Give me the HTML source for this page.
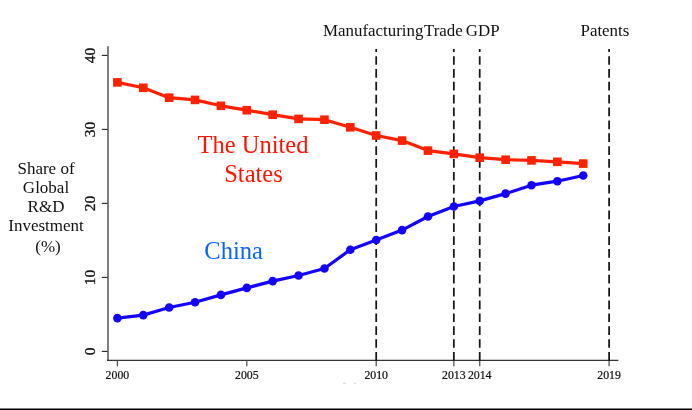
<!DOCTYPE html>
<html><head><meta charset="utf-8"><style>
html,body{margin:0;padding:0;background:#fff;}
body{width:692px;height:410px;overflow:hidden;position:relative;}
svg{position:absolute;left:0;top:0;will-change:transform;}
text{font-family:"Liberation Serif",serif;}
</style></head><body>
<svg width="692" height="410" viewBox="0 0 692 410">
<rect x="0" y="0" width="692" height="410" fill="#fff"/>
<!-- axes -->
<line x1="108" y1="46.2" x2="108" y2="361" stroke="#787878" stroke-width="1.9"/>
<line x1="107" y1="360.4" x2="618.3" y2="360.4" stroke="#333" stroke-width="1.2"/>
<g stroke="#222" stroke-width="1.1"><line x1="101.8" y1="351.40" x2="107.5" y2="351.40"/><line x1="101.8" y1="277.40" x2="107.5" y2="277.40"/><line x1="101.8" y1="203.40" x2="107.5" y2="203.40"/><line x1="101.8" y1="129.40" x2="107.5" y2="129.40"/><line x1="101.8" y1="55.40" x2="107.5" y2="55.40"/></g>
<g stroke="#555" stroke-width="1.3"><line x1="117.40" y1="360.5" x2="117.40" y2="366.3"/><line x1="246.80" y1="360.5" x2="246.80" y2="366.3"/><line x1="376.20" y1="360.5" x2="376.20" y2="366.3"/><line x1="453.84" y1="360.5" x2="453.84" y2="366.3"/><line x1="479.72" y1="360.5" x2="479.72" y2="366.3"/><line x1="609.12" y1="360.5" x2="609.12" y2="366.3"/></g>
<!-- vertical dashed -->
<g stroke="#151515" stroke-width="1.75" stroke-dasharray="8.7 4.164"><line x1="376.20" y1="360.7" x2="376.20" y2="49"/><line x1="453.84" y1="360.7" x2="453.84" y2="49"/><line x1="479.72" y1="360.7" x2="479.72" y2="49"/><line x1="609.12" y1="360.7" x2="609.12" y2="49"/></g>
<!-- series -->
<polyline points="117.40,82.40 143.28,87.80 169.16,97.70 195.04,99.90 220.92,105.80 246.80,110.20 272.68,114.70 298.56,118.90 324.44,119.70 350.32,127.30 376.20,135.50 402.08,140.60 427.96,150.60 453.84,153.90 479.72,157.70 505.60,159.70 531.48,160.40 557.36,161.80 583.24,163.60" fill="none" stroke="#ff2200" stroke-width="3.2" stroke-linejoin="round"/>
<g fill="#ff2200"><rect x="113.10" y="78.10" width="8.6" height="8.6"/><rect x="138.98" y="83.50" width="8.6" height="8.6"/><rect x="164.86" y="93.40" width="8.6" height="8.6"/><rect x="190.74" y="95.60" width="8.6" height="8.6"/><rect x="216.62" y="101.50" width="8.6" height="8.6"/><rect x="242.50" y="105.90" width="8.6" height="8.6"/><rect x="268.38" y="110.40" width="8.6" height="8.6"/><rect x="294.26" y="114.60" width="8.6" height="8.6"/><rect x="320.14" y="115.40" width="8.6" height="8.6"/><rect x="346.02" y="123.00" width="8.6" height="8.6"/><rect x="371.90" y="131.20" width="8.6" height="8.6"/><rect x="397.78" y="136.30" width="8.6" height="8.6"/><rect x="423.66" y="146.30" width="8.6" height="8.6"/><rect x="449.54" y="149.60" width="8.6" height="8.6"/><rect x="475.42" y="153.40" width="8.6" height="8.6"/><rect x="501.30" y="155.40" width="8.6" height="8.6"/><rect x="527.18" y="156.10" width="8.6" height="8.6"/><rect x="553.06" y="157.50" width="8.6" height="8.6"/><rect x="578.94" y="159.30" width="8.6" height="8.6"/></g>
<polyline points="117.40,318.10 143.28,315.10 169.16,307.50 195.04,302.30 220.92,294.90 246.80,287.90 272.68,281.10 298.56,275.50 324.44,268.50 350.32,249.70 376.20,240.00 402.08,230.10 427.96,216.50 453.84,206.50 479.72,200.90 505.60,193.60 531.48,185.20 557.36,181.20 583.24,175.50" fill="none" stroke="#1400ff" stroke-width="3.2" stroke-linejoin="round"/>
<g fill="#1400ff"><circle cx="117.40" cy="318.10" r="4.3"/><circle cx="143.28" cy="315.10" r="4.3"/><circle cx="169.16" cy="307.50" r="4.3"/><circle cx="195.04" cy="302.30" r="4.3"/><circle cx="220.92" cy="294.90" r="4.3"/><circle cx="246.80" cy="287.90" r="4.3"/><circle cx="272.68" cy="281.10" r="4.3"/><circle cx="298.56" cy="275.50" r="4.3"/><circle cx="324.44" cy="268.50" r="4.3"/><circle cx="350.32" cy="249.70" r="4.3"/><circle cx="376.20" cy="240.00" r="4.3"/><circle cx="402.08" cy="230.10" r="4.3"/><circle cx="427.96" cy="216.50" r="4.3"/><circle cx="453.84" cy="206.50" r="4.3"/><circle cx="479.72" cy="200.90" r="4.3"/><circle cx="505.60" cy="193.60" r="4.3"/><circle cx="531.48" cy="185.20" r="4.3"/><circle cx="557.36" cy="181.20" r="4.3"/><circle cx="583.24" cy="175.50" r="4.3"/></g>
<!-- labels -->
<g font-size="15.5" fill="#111" stroke="#111" stroke-width="0.3"><text transform="translate(95.4,351.40) rotate(-90)" text-anchor="middle">0</text><text transform="translate(95.4,277.40) rotate(-90)" text-anchor="middle">10</text><text transform="translate(95.4,203.40) rotate(-90)" text-anchor="middle">20</text><text transform="translate(95.4,129.40) rotate(-90)" text-anchor="middle">30</text><text transform="translate(95.4,55.40) rotate(-90)" text-anchor="middle">40</text></g>
<g font-size="11.8" fill="#111" stroke="#111" stroke-width="0.22"><text x="117.40" y="379.3" text-anchor="middle">2000</text><text x="246.80" y="379.3" text-anchor="middle">2005</text><text x="376.20" y="379.3" text-anchor="middle">2010</text><text x="453.84" y="379.3" text-anchor="middle">2013</text><text x="479.72" y="379.3" text-anchor="middle">2014</text><text x="609.12" y="379.3" text-anchor="middle">2019</text></g>
<g font-size="16.9" fill="#111">
<text x="323" y="36">Manufacturing</text>
<text x="424" y="36">Trade</text>
<text x="465.8" y="36">GDP</text>
<text x="580.5" y="36">Patents</text>
</g>
<g font-size="17" fill="#111" text-anchor="middle">
<text x="46" y="174">Share of</text>
<text x="46" y="193">Global</text>
<text x="46" y="212">R&amp;D</text>
<text x="46" y="231">Investment</text>
<text x="48" y="252.3">(%)</text>
</g>
<g font-size="24.5" fill="#ff1400" text-anchor="middle">
<text x="253" y="153">The United</text>
<text x="253.5" y="181.5">States</text>
</g>
<text x="233.6" y="258.7" font-size="24.5" fill="#0a64ff" text-anchor="middle">China</text>
<!-- faint marks -->
<line x1="343" y1="383.3" x2="346" y2="383.3" stroke="#ccc" stroke-width="0.8"/>
<line x1="354" y1="383.3" x2="356.2" y2="383.3" stroke="#ccc" stroke-width="0.8"/>
<!-- bottom border -->
<rect x="0" y="408.5" width="692" height="1.5" fill="#000"/>
</svg>
</body></html>
